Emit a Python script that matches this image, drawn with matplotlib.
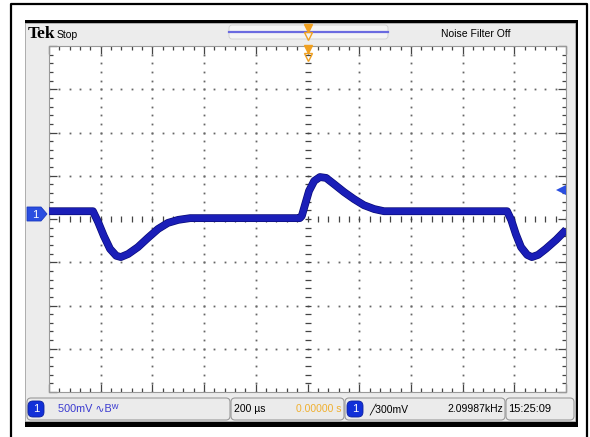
import numpy as np
import matplotlib
matplotlib.use("Agg")
import matplotlib.pyplot as plt
from matplotlib.patches import Rectangle, FancyBboxPatch, Polygon
import matplotlib.patheffects as pe

# trace, in divisions (x: 0..10, y: -4..4)
t_div = [0.00, 0.85, 0.95, 1.06, 1.18, 1.30, 1.39, 1.53, 1.72, 1.91, 2.11, 2.30, 2.50,
         2.73, 4.85, 4.89, 4.95, 5.03, 5.13, 5.24, 5.36, 5.51, 5.71, 5.90, 6.09, 6.29,
         6.48, 8.86, 8.94, 9.03, 9.13, 9.25, 9.34, 9.46, 9.61, 9.81, 10.00]
v_div = [0.18, 0.18, -0.07, -0.39, -0.69, -0.85, -0.88, -0.81, -0.65, -0.44, -0.23, -0.09, -0.02,
         0.02, 0.02, 0.07, 0.32, 0.65, 0.88, 0.97, 0.95, 0.81, 0.62, 0.46, 0.32, 0.23,
         0.18, 0.18, -0.02, -0.35, -0.65, -0.83, -0.88, -0.83, -0.69, -0.48, -0.25]

trig_level = 0.67     # divisions, blue arrow on the right

status_ch = "500mV \u223fB\u1d42"
timebase = "200 \u00b5s"
trig_pos = "0.00000 s"
trig_txt = "\u2571300mV"
freq_txt = "2.09987kHz"
clock_txt = "15:25:09"

W, H = 590, 437
SANS = ["Liberation Sans", "DejaVu Sans"]

fig = plt.figure(figsize=(W / 100, H / 100), dpi=100)
fig.patch.set_facecolor("white")

# background axes in pixel coords
bg = fig.add_axes([0, 0, 1, 1])
bg.set_xlim(0, W)
bg.set_ylim(H, 0)
bg.axis("off")

# outer frame
bg.plot([11, 11, 587, 587], [440, 4, 4, 440], color="black", lw=1.6)

# screen panel with dark shadow on top/right/bottom
bg.add_patch(Rectangle((25, 20), 553, 407, facecolor="black", edgecolor="none"))
bg.add_patch(Rectangle((25, 22.5), 549.5, 398.5, facecolor="#ececec", edgecolor="#bbbbbb", lw=0.6))

# header
bg.text(28, 34, "Tek", fontsize=12.5, fontweight="bold", family="Liberation Serif",
        va="center", ha="left", color="black")
bg.text(57, 34.5, "Stop", fontsize=7.5, family=SANS, va="center", ha="left")
bg.text(476, 34, "Noise Filter Off", fontsize=7.5, family=SANS, va="center", ha="center")
bg.add_patch(FancyBboxPatch((229, 25), 159, 14, boxstyle="round,pad=0,rounding_size=3",
                            facecolor="#f4f4f4", edgecolor="#d0d0d0", lw=0.6))
bg.plot([229, 388], [32, 32], color="#6a6ae0", lw=1.6)

# channel 1 tag on the left
cy = 214
bg.add_patch(Polygon([[27, cy - 7], [41, cy - 7], [47, cy], [41, cy + 7], [27, cy + 7]],
                     closed=True, facecolor="#2a4ee0", edgecolor="#1838c0", lw=0.6))
bg.text(35, cy + 0.5, "1", color="white", fontsize=8, family=SANS, ha="center", va="center")

# status bar
boxes = [(27, 203), (231, 113), (345, 160), (506, 68)]
for x0, w in boxes:
    bg.add_patch(FancyBboxPatch((x0, 398), w, 22, boxstyle="round,pad=0,rounding_size=4",
                                facecolor="#ebebeb", edgecolor="#9a9a9a", lw=0.8))
for bx in (28, 347):
    bg.add_patch(FancyBboxPatch((bx, 401), 16, 16, boxstyle="round,pad=0,rounding_size=5",
                                facecolor="#1230d8", edgecolor="#0c20a0", lw=0.6))
    bg.text(bx + 8, 409.5, "1", color="white", fontsize=8, family=SANS, ha="center", va="center")
bg.text(58, 409, status_ch, color="#3a3ad0", fontsize=7.8, family=SANS, va="center", ha="left")
bg.text(234, 409, timebase, color="black", fontsize=7.5, family=SANS, va="center", ha="left")
bg.text(342, 409, trig_pos, color="#f0b030", fontsize=7.5, family=SANS, va="center", ha="right")
bg.text(369, 409, trig_txt, color="black", fontsize=7.5, family=SANS, va="center", ha="left")
bg.text(503, 409, freq_txt, color="black", fontsize=7.5, family=SANS, va="center", ha="right")
bg.text(508, 409, clock_txt, color="black", fontsize=8, family=SANS, va="center", ha="left")

# graticule axes
ax = fig.add_axes([49 / W, (H - 392) / H, 517 / W, 346 / H])
ax.set_xlim(0, 10)
ax.set_ylim(-4, 4)
ax.set_facecolor("white")
ax.set_xticks(np.arange(0, 11, 1))
ax.set_yticks(np.arange(-4, 5, 1))
ax.set_xticks(np.arange(0, 10.01, 0.2), minor=True)
ax.set_yticks(np.arange(-4, 4.01, 0.2), minor=True)
ax.tick_params(which="both", direction="in", top=True, right=True,
               labelbottom=False, labelleft=False, color="#444444", width=0.9)
ax.tick_params(which="major", length=6)
ax.tick_params(which="minor", length=3)
for s in ax.spines.values():
    s.set_color("#999999")
    s.set_linewidth(0.8)

dots_y = np.arange(-4, 4.01, 0.2)
dots_x = np.arange(0, 10.01, 0.2)
for gx in [1, 2, 3, 4, 6, 7, 8, 9]:
    ax.plot(np.full_like(dots_y, gx), dots_y, ls="none", marker="s", ms=1.3, color="#666666", mew=0)
for gy in [-3, -2, -1, 1, 2, 3]:
    ax.plot(dots_x, np.full_like(dots_x, gy), ls="none", marker="s", ms=1.3, color="#666666", mew=0)
ax.plot(dots_x, np.zeros_like(dots_x), ls="none", marker="|", ms=5, color="#444444", mew=0.9)
ax.plot(np.full_like(dots_y, 5), dots_y, ls="none", marker="_", ms=5, color="#444444", mew=0.9)

# trace
ax.plot(t_div, v_div, color="#1a1eb8", lw=4.6, solid_joinstyle="round", solid_capstyle="butt",
        path_effects=[pe.Stroke(linewidth=5.6, foreground="#0a0c78"), pe.Normal()], zorder=5)

# trigger level arrow
ax.plot([9.9], [trig_level], marker="<", ms=7, color="#2a4ee0", mew=0, zorder=6)
ax.plot([9.9, 10.0], [trig_level, trig_level], color="#2a4ee0", lw=2, zorder=6)

# overlay for trigger position markers (header and top of graticule)
top = fig.add_axes([0, 0, 1, 1], zorder=10)
top.set_xlim(0, W)
top.set_ylim(H, 0)
top.axis("off")
top.patch.set_alpha(0)
orange = "#f0a020"
for my in (28, 49):
    top.plot([307.5], [my], marker="v", ms=6, color=orange, mec=orange)
    top.plot([307.5], [my + 8], marker="v", ms=6, color="none", mec=orange, mew=1)

fig.savefig("out.png", dpi=100)
